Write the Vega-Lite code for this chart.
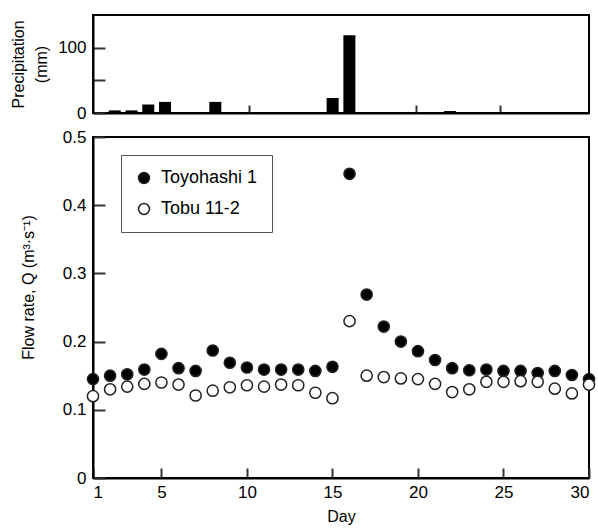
{
  "$schema": "https://vega.github.io/schema/vega-lite/v6.json",
  "padding": {"left": 9, "top": 14, "right": 6, "bottom": 2},
  "spacing": 5,
  "config": {
    "font": "Liberation Sans",
    "view": {"stroke": "black", "strokeWidth": 2},
    "axis": {
      "domainColor": "black", "domainWidth": 2, "tickColor": "#333", "tickWidth": 2,
      "labelColor": "black", "titleColor": "black", "labelFontSize": 17, "titleFontSize": 16,
      "titleFontWeight": "normal", "grid": false, "labelFont": "Liberation Sans", "titleFont": "Liberation Sans"
    }
  },
  "vconcat": [
    {
      "width": 496,
      "height": 98,
      "data": {"values": [
        {"day": 2, "mm": 4}, {"day": 3, "mm": 4}, {"day": 4, "mm": 13}, {"day": 5, "mm": 17},
        {"day": 8, "mm": 17}, {"day": 15, "mm": 23}, {"day": 16, "mm": 119}, {"day": 22, "mm": 3},
        {"day": 25, "mm": 1}
      ]},
      "mark": {"type": "bar", "size": 12, "color": "black"},
      "encoding": {
        "x": {"field": "day", "type": "quantitative", "scale": {"domain": [1, 30], "nice": false},
          "axis": {"values": [5, 10, 15, 20, 25], "labels": false, "tickSize": -8, "title": null}},
        "y": {"field": "mm", "type": "quantitative", "scale": {"domain": [0, 150], "nice": false},
          "axis": {"values": [0, 50, 100], "labelExpr": "datum.value == 50 ? '' : datum.label", "tickSize": -12, "labelPadding": 19,
            "title": ["Precipitation", "(mm)"], "titleLineHeight": 23, "titlePadding": 8}}
      }
    },
    {
      "width": 496,
      "height": 341,
      "data": {"values": [
        {"day": 1, "series": "Toyohashi 1", "q": 0.145}, {"day": 2, "series": "Toyohashi 1", "q": 0.150},
        {"day": 3, "series": "Toyohashi 1", "q": 0.152}, {"day": 4, "series": "Toyohashi 1", "q": 0.159},
        {"day": 5, "series": "Toyohashi 1", "q": 0.182}, {"day": 6, "series": "Toyohashi 1", "q": 0.161},
        {"day": 7, "series": "Toyohashi 1", "q": 0.157}, {"day": 8, "series": "Toyohashi 1", "q": 0.187},
        {"day": 9, "series": "Toyohashi 1", "q": 0.169}, {"day": 10, "series": "Toyohashi 1", "q": 0.162},
        {"day": 11, "series": "Toyohashi 1", "q": 0.159}, {"day": 12, "series": "Toyohashi 1", "q": 0.159},
        {"day": 13, "series": "Toyohashi 1", "q": 0.159}, {"day": 14, "series": "Toyohashi 1", "q": 0.157},
        {"day": 15, "series": "Toyohashi 1", "q": 0.163}, {"day": 16, "series": "Toyohashi 1", "q": 0.446},
        {"day": 17, "series": "Toyohashi 1", "q": 0.269}, {"day": 18, "series": "Toyohashi 1", "q": 0.222},
        {"day": 19, "series": "Toyohashi 1", "q": 0.200}, {"day": 20, "series": "Toyohashi 1", "q": 0.186},
        {"day": 21, "series": "Toyohashi 1", "q": 0.173}, {"day": 22, "series": "Toyohashi 1", "q": 0.161},
        {"day": 23, "series": "Toyohashi 1", "q": 0.158}, {"day": 24, "series": "Toyohashi 1", "q": 0.159},
        {"day": 25, "series": "Toyohashi 1", "q": 0.157}, {"day": 26, "series": "Toyohashi 1", "q": 0.157},
        {"day": 27, "series": "Toyohashi 1", "q": 0.154}, {"day": 28, "series": "Toyohashi 1", "q": 0.157},
        {"day": 29, "series": "Toyohashi 1", "q": 0.151}, {"day": 30, "series": "Toyohashi 1", "q": 0.145},
        {"day": 1, "series": "Tobu 11-2", "q": 0.120}, {"day": 2, "series": "Tobu 11-2", "q": 0.130},
        {"day": 3, "series": "Tobu 11-2", "q": 0.134}, {"day": 4, "series": "Tobu 11-2", "q": 0.138},
        {"day": 5, "series": "Tobu 11-2", "q": 0.140}, {"day": 6, "series": "Tobu 11-2", "q": 0.137},
        {"day": 7, "series": "Tobu 11-2", "q": 0.121}, {"day": 8, "series": "Tobu 11-2", "q": 0.128},
        {"day": 9, "series": "Tobu 11-2", "q": 0.133}, {"day": 10, "series": "Tobu 11-2", "q": 0.136},
        {"day": 11, "series": "Tobu 11-2", "q": 0.134}, {"day": 12, "series": "Tobu 11-2", "q": 0.137},
        {"day": 13, "series": "Tobu 11-2", "q": 0.136}, {"day": 14, "series": "Tobu 11-2", "q": 0.125},
        {"day": 15, "series": "Tobu 11-2", "q": 0.117}, {"day": 16, "series": "Tobu 11-2", "q": 0.230},
        {"day": 17, "series": "Tobu 11-2", "q": 0.150}, {"day": 18, "series": "Tobu 11-2", "q": 0.148},
        {"day": 19, "series": "Tobu 11-2", "q": 0.146}, {"day": 20, "series": "Tobu 11-2", "q": 0.145},
        {"day": 21, "series": "Tobu 11-2", "q": 0.138}, {"day": 22, "series": "Tobu 11-2", "q": 0.126},
        {"day": 23, "series": "Tobu 11-2", "q": 0.130}, {"day": 24, "series": "Tobu 11-2", "q": 0.141},
        {"day": 25, "series": "Tobu 11-2", "q": 0.141}, {"day": 26, "series": "Tobu 11-2", "q": 0.142},
        {"day": 27, "series": "Tobu 11-2", "q": 0.141}, {"day": 28, "series": "Tobu 11-2", "q": 0.131},
        {"day": 29, "series": "Tobu 11-2", "q": 0.124}, {"day": 30, "series": "Tobu 11-2", "q": 0.137}
      ]},
      "mark": {"type": "point", "shape": "circle", "filled": true, "size": 125, "stroke": "#222", "strokeWidth": 1.5, "opacity": 1},
      "encoding": {
        "x": {"field": "day", "type": "quantitative", "scale": {"domain": [1, 30], "nice": false},
          "axis": {"values": [1, 5, 10, 15, 20, 25, 30], "tickSize": -10, "labelPadding": 16, "title": "Day", "titlePadding": 8}},
        "y": {"field": "q", "type": "quantitative", "scale": {"domain": [0, 0.5], "nice": false},
          "axis": {"values": [0, 0.1, 0.2, 0.3, 0.4, 0.5], "labelExpr": "datum.value == 0 ? '0' : format(datum.value, '.1f')",
            "tickSize": -12, "labelPadding": 19, "title": "Flow rate, Q (m³·s⁻¹)", "titlePadding": 26, "titleY": 150}},
        "fill": {"field": "series", "type": "nominal",
          "scale": {"domain": ["Toyohashi 1", "Tobu 11-2"], "range": ["black", "white"]},
          "legend": {"orient": "none", "legendX": 28, "legendY": 140, "title": null, "strokeColor": "#555",
            "padding": 14, "rowPadding": 13, "labelFontSize": 18, "labelColor": "black", "symbolSize": 120,
            "symbolStrokeColor": "#222", "symbolStrokeWidth": 1.5, "labelOffset": 8, "symbolType": "circle", "fillColor": "white"}}
      }
    }
  ]
}
